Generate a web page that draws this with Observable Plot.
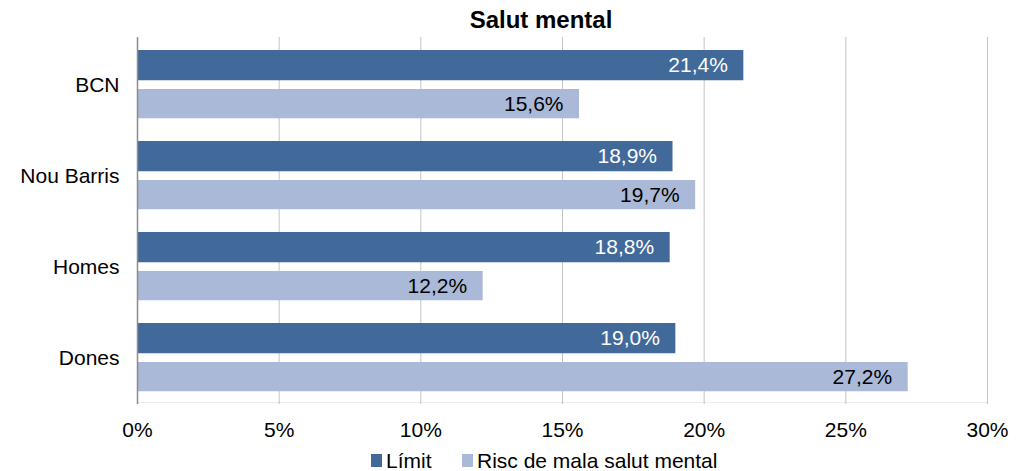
<!DOCTYPE html>
<html>
<head>
<meta charset="utf-8">
<script src="https://cdn.jsdelivr.net/npm/d3@7"></script>
<script src="https://cdn.jsdelivr.net/npm/@observablehq/plot@0.6"></script>
<style>
  html, body { margin: 0; padding: 0; background: #fff; }
  body { width: 1025px; height: 471px; position: relative; overflow: hidden; font-family: "Liberation Sans", Arial, sans-serif; }
  #title { position: absolute; left: 541px; top: 8px; transform: translateX(-50%); font-size: 24px; line-height: 24px; font-weight: bold; white-space: nowrap; color: #000; }
  #chart { position: absolute; left: 0; top: 37px; }
  #legend { position: absolute; left: 0; top: 450px; width: 1025px; height: 21px; }
  .sw { position: absolute; top: 4px; width: 11px; height: 13px; }
  .lt { position: absolute; top: 0; font-size: 21px; line-height: 21px; white-space: nowrap; color: #000; }
</style>
</head>
<body>
<div id="title">Salut mental</div>
<div id="chart"></div>
<div id="legend"></div>
<script>
const categories = ["BCN", "Nou Barris", "Homes", "Dones"];
const series = ["Límit", "Risc de mala salut mental"];
const limitValues = [21.4, 18.9, 18.8, 19.0];
const riscValues = [15.6, 19.7, 12.2, 27.2];
const xTicks = [0, 5, 10, 15, 20, 25, 30];
const colors = ["#416a9b", "#a9b9d7"];
const labelColors = ["#ffffff", "#000000"];

const fmt = v => v.toFixed(1).replace(".", ",") + "%";
const limitData = categories.map((c, i) => ({cat: c, v: limitValues[i]}));
const riscData = categories.map((c, i) => ({cat: c, v: riscValues[i]}));

const plot = Plot.plot({
  width: 1025,
  height: 409,
  marginLeft: 137,
  marginRight: 38,
  marginTop: 0,
  marginBottom: 42,
  style: {fontSize: "21px", fontFamily: "'Liberation Sans', Arial, sans-serif", color: "#000", background: "transparent"},
  x: {domain: [0, 30], ticks: xTicks, tickFormat: d => d + "%", tickSize: 0, tickPadding: 18, label: null},
  y: {domain: categories, padding: 0, tickSize: 0, tickPadding: 18, label: null},
  marks: [
    Plot.ruleX(xTicks.filter(d => d > 0), {stroke: "#c4c4c4", strokeWidth: 1}),
    Plot.barX(limitData, {x: "v", y: "cat", fill: colors[0], insetTop: 11, insetBottom: 49.75}),
    Plot.barX(riscData, {x: "v", y: "cat", fill: colors[1], insetTop: 50, insetBottom: 11.75}),
    Plot.barX([categories[categories.length - 1]], {x1: 0, x2: 30, y: d => d, fill: "#b3b3b3", insetTop: 90.75, insetBottom: 0}),
    Plot.ruleX([0], {stroke: "#8c8c8c", strokeWidth: 1.5}),
    Plot.text(limitData, {x: "v", y: "cat", text: d => fmt(d.v), textAnchor: "end", dx: -16, dy: -19.4, fill: labelColors[0]}),
    Plot.text(riscData, {x: "v", y: "cat", text: d => fmt(d.v), textAnchor: "end", dx: -16, dy: 19.1, fill: labelColors[1]})
  ]
});
document.getElementById("chart").appendChild(plot);

// legend
const legend = document.getElementById("legend");
const legendX = [371, 462];
series.forEach((s, i) => {
  const sw = document.createElement("div");
  sw.className = "sw";
  sw.style.left = legendX[i] + "px";
  sw.style.background = colors[i];
  legend.appendChild(sw);
  const t = document.createElement("div");
  t.className = "lt";
  t.style.left = (legendX[i] + 15) + "px";
  t.textContent = s;
  legend.appendChild(t);
});
</script>
</body>
</html>
